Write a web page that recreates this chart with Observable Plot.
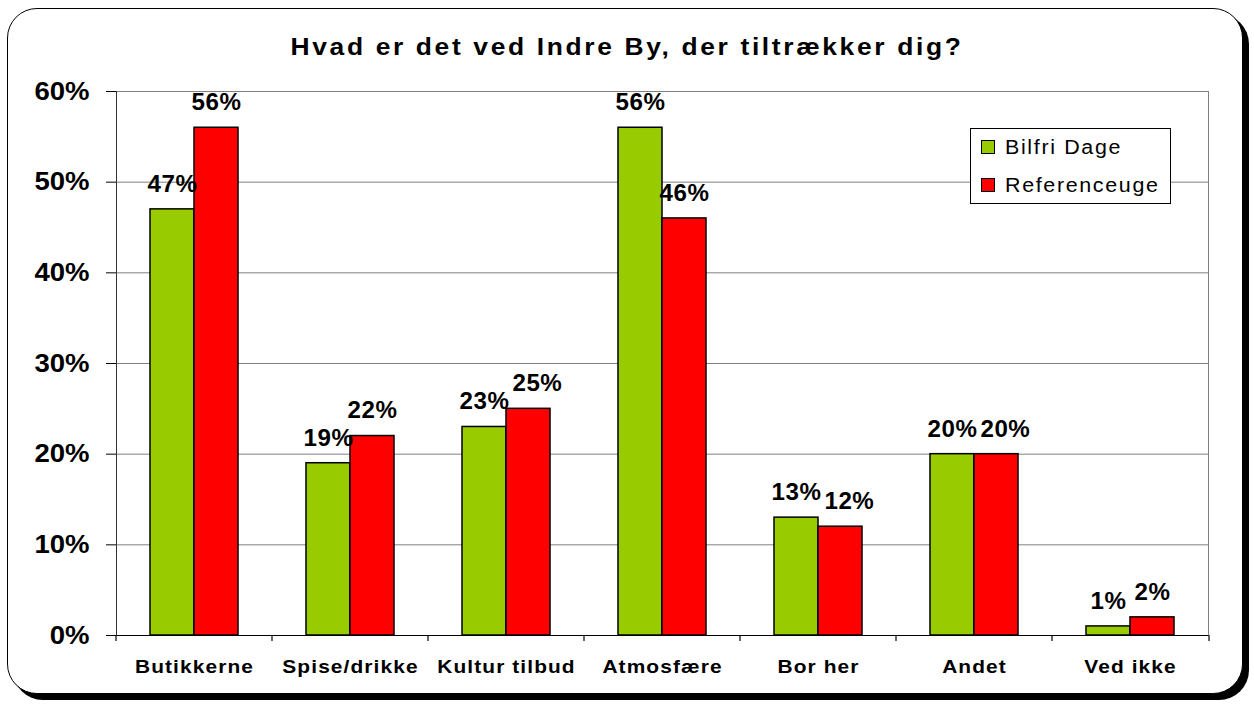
<!DOCTYPE html>
<html><head><meta charset="utf-8">
<script src="https://cdn.jsdelivr.net/npm/d3@7"></script>
<script src="https://cdn.jsdelivr.net/npm/@observablehq/plot@0.6"></script>
<style>
body{margin:0;background:#fff;font-family:"Liberation Sans",Arial,sans-serif;}
#wrap{position:relative;width:1254px;height:704px;overflow:hidden;background:#fff}
#frame{position:absolute;left:7px;top:8px;width:1234px;height:684px;border:1.5px solid #000;border-radius:30px;box-shadow:6px 6px 0 #000;background:#fff}
#chart{position:absolute;left:0;top:0}
#chart svg g[aria-label="y-axis tick label"] text{letter-spacing:0px}
#chart svg g[aria-label="fx-axis tick label"] text{letter-spacing:1px}
#chart svg g[aria-label="text"] text{letter-spacing:0.5px}
#title{position:absolute;left:0;width:1254px;top:33px;text-align:center;font-weight:bold;font-size:24px;letter-spacing:2.4px;color:#000;transform:scaleX(1.1);transform-origin:627px 50%}
#legend{position:absolute;left:970px;top:128px;width:199px;height:74px;border:1px solid #000;background:#fff;font-size:19.5px;letter-spacing:1.5px}
.item{position:absolute;left:10px;height:24px;line-height:24px}
.sw{position:absolute;left:0;top:5px;width:12px;height:12px;border:1px solid #000}
.lab{position:absolute;left:24px;top:0;white-space:nowrap;transform:scaleX(1.1);transform-origin:0 50%}
</style></head>
<body>
<div id="wrap">
  <div id="frame"></div>
  <div id="chart"></div>
  <div id="title">Hvad er det ved Indre By, der tiltrækker dig?</div>
  <div id="legend"></div>
</div>
<script>
const categories = ["Butikkerne","Spise/drikke","Kultur tilbud","Atmosfære","Bor her","Andet","Ved ikke"];
const series = ["Bilfri Dage","Referenceuge"];
const bilfri = [47,19,23,56,13,20,1];
const reference = [56,22,25,46,12,20,2];
const yTicks = [0,10,20,30,40,50,60];
const colors = ["#99CC00","#FF0000"];

const rows = categories.flatMap((c,i)=>[
  {cat:c, s:series[0], v:bilfri[i]},
  {cat:c, s:series[1], v:reference[i]}
]);

const plot = Plot.plot({
  width:1254, height:704,
  marginLeft:115, marginRight:45, marginTop:91, marginBottom:69,
  style:{background:"transparent", fontFamily:"Liberation Sans, Arial, sans-serif", color:"#000", overflow:"visible"},
  facet:{data: rows, x:"cat"},
  fx:{domain: categories, padding:0, label:null},
  x:{domain: series, paddingInner:0, paddingOuter:0.735, axis:null},
  y:{domain:[0,60], label:null},
  color:{domain: series, range: colors},
  marks:[
    Plot.ruleY(yTicks, {stroke:"#808080", strokeWidth:1}),
    Plot.frame({anchor:"right", facetAnchor:"right", stroke:"#808080"}),
    Plot.barY(rows, {x:"s", y:"v", fill:"s", stroke:"#000", strokeWidth:1.5}),
    Plot.text(rows, {x:"s", y:"v", text: d=>d.v+"%", dy:-25, fontWeight:"bold", fontSize:23}),
    Plot.ruleY([0], {stroke:"#000", strokeWidth:1.2}),
    Plot.frame({anchor:"left", facetAnchor:"left", stroke:"#333"}),
    Plot.axisY(yTicks, {tickFormat: d=>d+"%", tickSize:10, tickPadding:17, fontSize:25, fontWeight:"bold", label:null, stroke:"#000"}),
    Plot.axisFx({anchor:"bottom", tickSize:0, tickPadding:24, fontSize:19, fontWeight:"bold", label:null})
  ]
});
document.getElementById("chart").appendChild(plot);
const svg = d3.select(plot);

// horizontal stretch of the text glyphs (the reference text is drawn wide)
function stretch(sel, s){
  sel.each(function(){
    const t = d3.select(this);
    const xa = t.attr("x");
    if (xa != null && /^-?[\d.]+$/.test(xa)) t.attr("x", (+xa) / s);
    const tr = t.attr("transform") || "";
    t.attr("transform", `${tr} scale(${s},1)`);
  });
}
stretch(svg.selectAll('g[aria-label="y-axis tick label"] text'), 1.1);
stretch(svg.selectAll('g[aria-label="fx-axis tick label"] text'), 1.1);
stretch(svg.selectAll('g[aria-label="text"] text'), 1.05);

// nudge a value label sideways when it collides with its neighbour (as the original software does)
const labels = svg.selectAll('g[aria-label="text"] text').nodes();
for (let i = 0; i + 1 < labels.length; i += 2) {
  const a = labels[i].getBoundingClientRect(), b = labels[i+1].getBoundingClientRect();
  const hov = a.right - b.left, vov = Math.min(a.bottom, b.bottom) - Math.max(a.top, b.top);
  if (hov > 0 && vov > 0) {
    const t = d3.select(labels[i+1]);
    t.attr("transform", `translate(${hov + 3},0) ${t.attr("transform") || ""}`);
  }
}

// category boundary ticks on the x axis, from the library's fx scale
const fx = plot.scale("fx");
const y0 = plot.scale("y").apply(0);
const edges = categories.map(c => fx.apply(c)).concat([fx.range[1]]);
svg.append("g").selectAll("line").data(edges).join("line")
  .attr("x1", d=>d).attr("x2", d=>d).attr("y1", y0).attr("y2", y0+6)
  .attr("stroke", "#000").attr("stroke-width", 1.2);

// legend
const leg = d3.select("#legend");
series.forEach((s,i)=>{
  const it = leg.append("div").attr("class","item").style("top", (i===0?6:44)+"px");
  it.append("div").attr("class","sw").style("background", colors[i]);
  it.append("div").attr("class","lab").text(s);
});
</script>
</body></html>
